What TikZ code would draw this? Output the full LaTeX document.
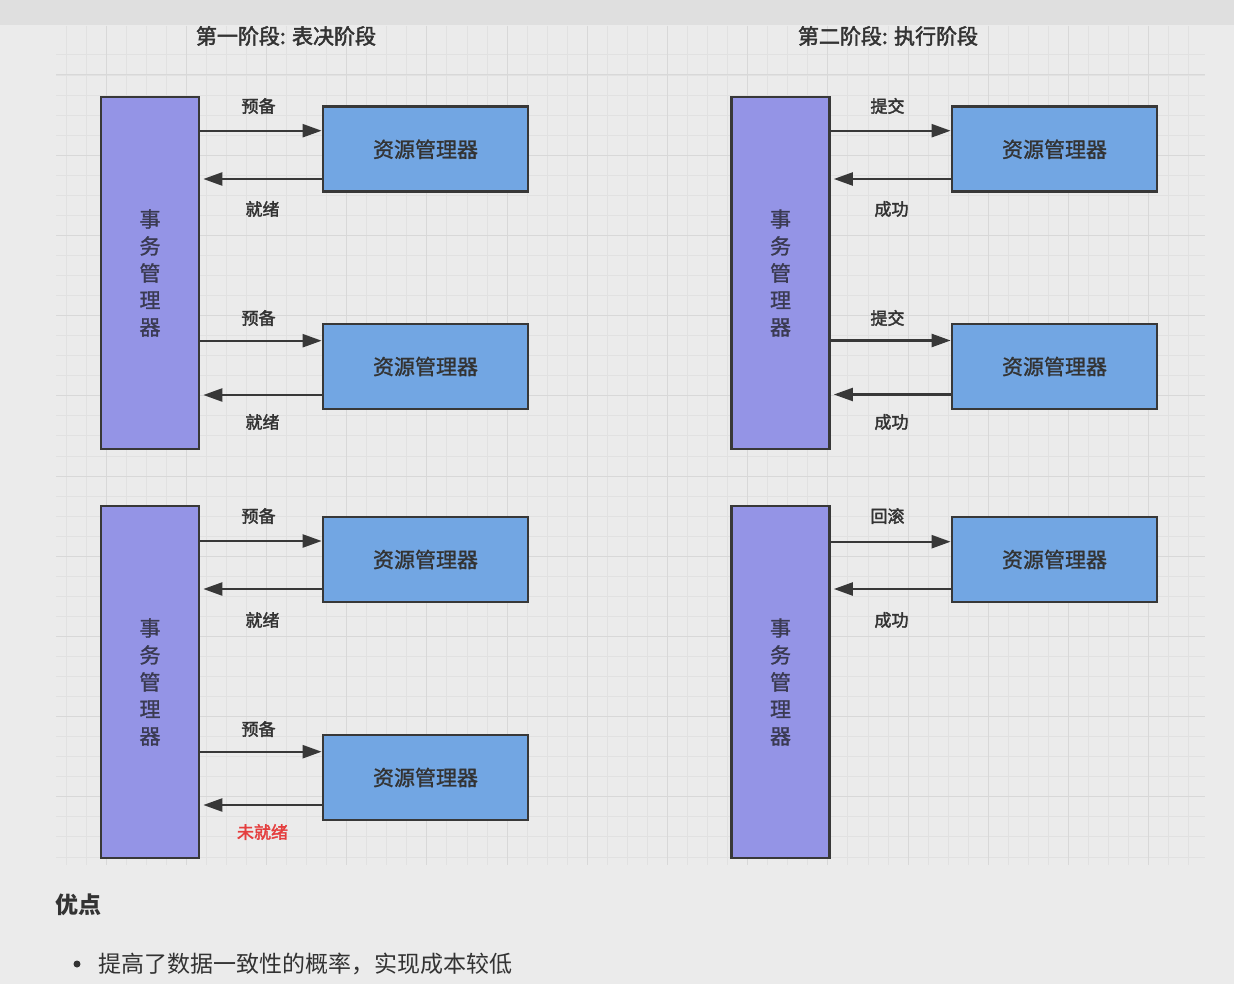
\documentclass[tikz,border=0pt]{standalone}
\usepackage{fontspec}
\setmainfont{Noto Sans CJK SC}
\newfontfamily\semibold[FakeBold=1.3]{Noto Sans CJK SC}
\newfontfamily\heavy[FakeBold=2.2]{Noto Sans CJK SC}
\usetikzlibrary{arrows.meta,positioning}
\definecolor{bgcol}{HTML}{EBEBEB}
\definecolor{barcol}{HTML}{DFDFDF}
\definecolor{gridminor}{HTML}{E1E1E1}
\definecolor{gridmajor}{HTML}{D8D8D8}
\definecolor{tmcol}{HTML}{9494E6}
\definecolor{rmcol}{HTML}{72A6E3}
\definecolor{edgecol}{HTML}{383838}
\definecolor{txtcol}{HTML}{333333}
\definecolor{tmtxt}{HTML}{3A3A52}
\definecolor{failcol}{HTML}{E53E3E}
\tikzset{
  tmbox/.style={draw=edgecol, line width=2.7pt, fill=tmcol, minimum width=98pt,
    minimum height=352pt, inner sep=0pt, align=center, text=tmtxt,
    font=\semibold\fontsize{21}{27}\selectfont},
  rmbox/.style={draw=edgecol, line width=2.7pt, fill=rmcol, minimum width=205pt,
    minimum height=85pt, inner sep=0pt, text=txtcol, font=\semibold\fontsize{21}{21}\selectfont},
  flow/.style={draw=edgecol, line width=2.3pt, -{Triangle[length=19pt,width=13pt]}},
  msg/.style={inner sep=0pt, font=\heavy\fontsize{17}{17}\selectfont},
  phase/.style={inner sep=0pt, text=txtcol, font=\heavy\fontsize{21}{21}\selectfont}
}
\begin{document}
\begin{tikzpicture}[x=1pt,y=-1pt]
  \useasboundingbox (0,0) rectangle (1234,984);
  \fill[bgcol] (0,0) rectangle (1234,984);

  % grid
  \foreach \i in {0,...,56}
    \draw[gridminor, line width=1pt] ({66+20.05*\i},26) -- ({66+20.05*\i},865);
  \foreach \j in {0,...,40}
    \draw[gridminor, line width=1pt] (56,{55+20.05*\j}) -- (1205,{55+20.05*\j});
  \foreach \i in {0,...,13}
    \draw[gridmajor, line width=1pt] ({106.1+80.2*\i},26) -- ({106.1+80.2*\i},865);
  \foreach \j in {0,...,9}
    \draw[gridmajor, line width=1pt] (56,{75+80.2*\j}) -- (1205,{75+80.2*\j});

  \fill[barcol] (0,0) rectangle (1234,25);

  \node[phase] (vote) at (286,36) {第一阶段: 表决阶段};
  \node[phase] (exec) at (888,36) {第二阶段: 执行阶段};

  \foreach \n/\cx/\cy in {a/150/273,b/780.5/273,c/150/682,d/780.5/682}
    \node[tmbox] (tm\n) at (\cx,\cy) {事\\务\\管\\理\\器};

  \foreach \n/\tm/\cx/\cy/\fy/\by/\gy/\ky/\go/\back/\tc in
    {a1/a/425.5/149.3/130.7/179/106/209/预备/就绪/txtcol,
     a2/a/425.5/366.5/340.7/395/318/422/预备/就绪/txtcol,
     b1/b/1054.5/149.3/130.7/179/106/209/提交/成功/txtcol,
     b2/b/1054.5/366.5/340.5/394.5/318/422/提交/成功/txtcol,
     c1/c/425.5/559.5/541/589/516/620/预备/就绪/txtcol,
     c2/c/425.5/777.5/751.7/805/729/832/预备/未就绪/failcol,
     d1/d/1054.5/559.5/541.7/589/516/620/回滚/成功/txtcol}
  {
    \node[rmbox] (rm\n) at (\cx,\cy) {资源管理器};
    \coordinate (in\n) at (rm\n.west |- 0,\fy);
    \coordinate (out\n) at (rm\n.west |- 0,\by);
    \draw[flow] (in\n -| tm\tm.east) -- (in\n);
    \draw[flow, shorten >=3pt] (out\n) -- (out\n -| tm\tm.east);
    \node[msg, text=txtcol] (go\n) at ({\cx-167},\gy) {\go};
    \node[msg, text=\tc] (bk\n) at ({\cx-163},\ky) {\back};
  }

  \node[anchor=west, inner sep=0pt, text=txtcol, font=\bfseries\fontsize{23}{23}\selectfont]
    (pros) at (55,905) {优点};
  \node[circle, fill=txtcol, inner sep=0pt, minimum size=7pt] (dot) at (77,964) {};
  \node[anchor=west, inner sep=0pt, text=txtcol, font=\fontsize{23}{23}\selectfont]
    (point) at (98,964) {提高了数据一致性的概率，实现成本较低};
\end{tikzpicture}
\end{document}
